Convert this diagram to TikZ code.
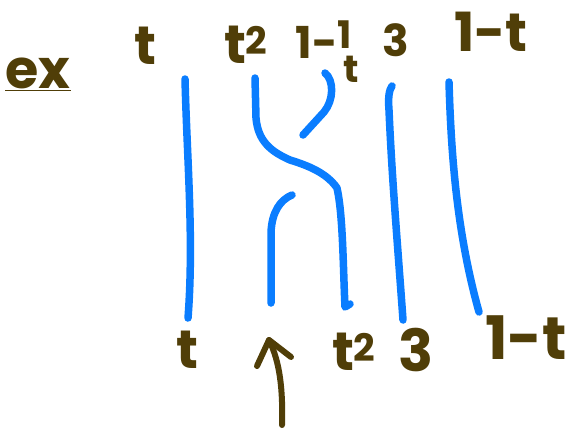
\documentclass[tikz,border=0pt]{standalone}
\usepackage{fontspec}
\setmainfont{Poppins}
\definecolor{strand}{RGB}{10,125,255}
\definecolor{ink}{RGB}{80,62,8}
\begin{document}
\begin{tikzpicture}[x=1pt,y=-1pt,
  strandline/.style={draw=strand,line width=7.5pt,line cap=round,line join=round},
  inkline/.style={draw=ink,line width=6pt,line cap=round,line join=round},
  lbl/.style={text=ink,inner sep=0pt,font=\fontsize{54}{54}\selectfont\bfseries},
  slbl/.style={text=ink,inner sep=0pt,font=\fontsize{44}{44}\selectfont\bfseries},
  flbl/.style={text=ink,inner sep=0pt,font=\fontsize{38}{38}\selectfont\bfseries}]
\useasboundingbox (0,0) rectangle (569,432);
% labels top
\node[lbl] (ex) at (38,74) {\underline{ex}};
\node[lbl] (ta) at (145,46) {t};
\node[lbl] (tb) at (246,45) {t\textsuperscript{2}};
\node[slbl] (tc) at (317,42) {1-};
\node[flbl] (tcn) at (345,35) {1};
\node[flbl] (tcd) at (351,69) {t};
\node[slbl] (td) at (396,40) {3};
\node[lbl] (te) at (491,32) {1-t};
% labels bottom
\node[lbl] (ba) at (187,350) {t};
\node[lbl] (bb) at (354,352) {t\textsuperscript{2}};
\node[font=\fontsize{58}{58}\selectfont\bfseries,text=ink,inner sep=0pt] (bc) at (416,350) {3};
\node[font=\fontsize{60}{60}\selectfont\bfseries,text=ink,inner sep=0pt] (bd) at (526,338) {1-t};
% strand coordinates
\coordinate (a1) at (185,79);   \coordinate (a2) at (188,318);
\coordinate (b1) at (255,78);   \coordinate (b2) at (337,188); \coordinate (b3) at (345,307);
\coordinate (c1) at (325,73);   \coordinate (c2) at (303,135);
\coordinate (c3) at (292,195);  \coordinate (c4) at (271,303);
\coordinate (d1) at (392,86);   \coordinate (d2) at (403,320);
\coordinate (e1) at (449,82);   \coordinate (e2) at (479,312);
% strands
\draw[strandline] (a1) .. controls (187,160) and (194,240) .. (a2);
\draw[strandline] (b1) -- (256,118) .. controls (258,142) and (272,152) .. (290,160)
  .. controls (306,165) and (326,172) .. (b2)
  .. controls (343,215) and (343,265) .. (b3) -- (350,304);
\draw[strandline] (c1) .. controls (334,80) and (334,100) .. (324,112) -- (c2);
\draw[strandline] (c3) .. controls (280,200) and (272,212) .. (271,232) -- (c4);
\draw[strandline] (d1) .. controls (389,90) and (388,98) .. (389,110) .. controls (392,180) and (398,250) .. (d2);
\draw[strandline] (e1) .. controls (451,150) and (456,230) .. (e2);
% arrow
\coordinate (ar0) at (282,425); \coordinate (ar1) at (269,340);
\coordinate (arl) at (257,366); \coordinate (arr) at (291,357);
\draw[inkline] (ar0) .. controls (283,390) and (280,362) .. (ar1);
\draw[inkline] (arl) -- (ar1) -- (arr);
\end{tikzpicture}
\end{document}
